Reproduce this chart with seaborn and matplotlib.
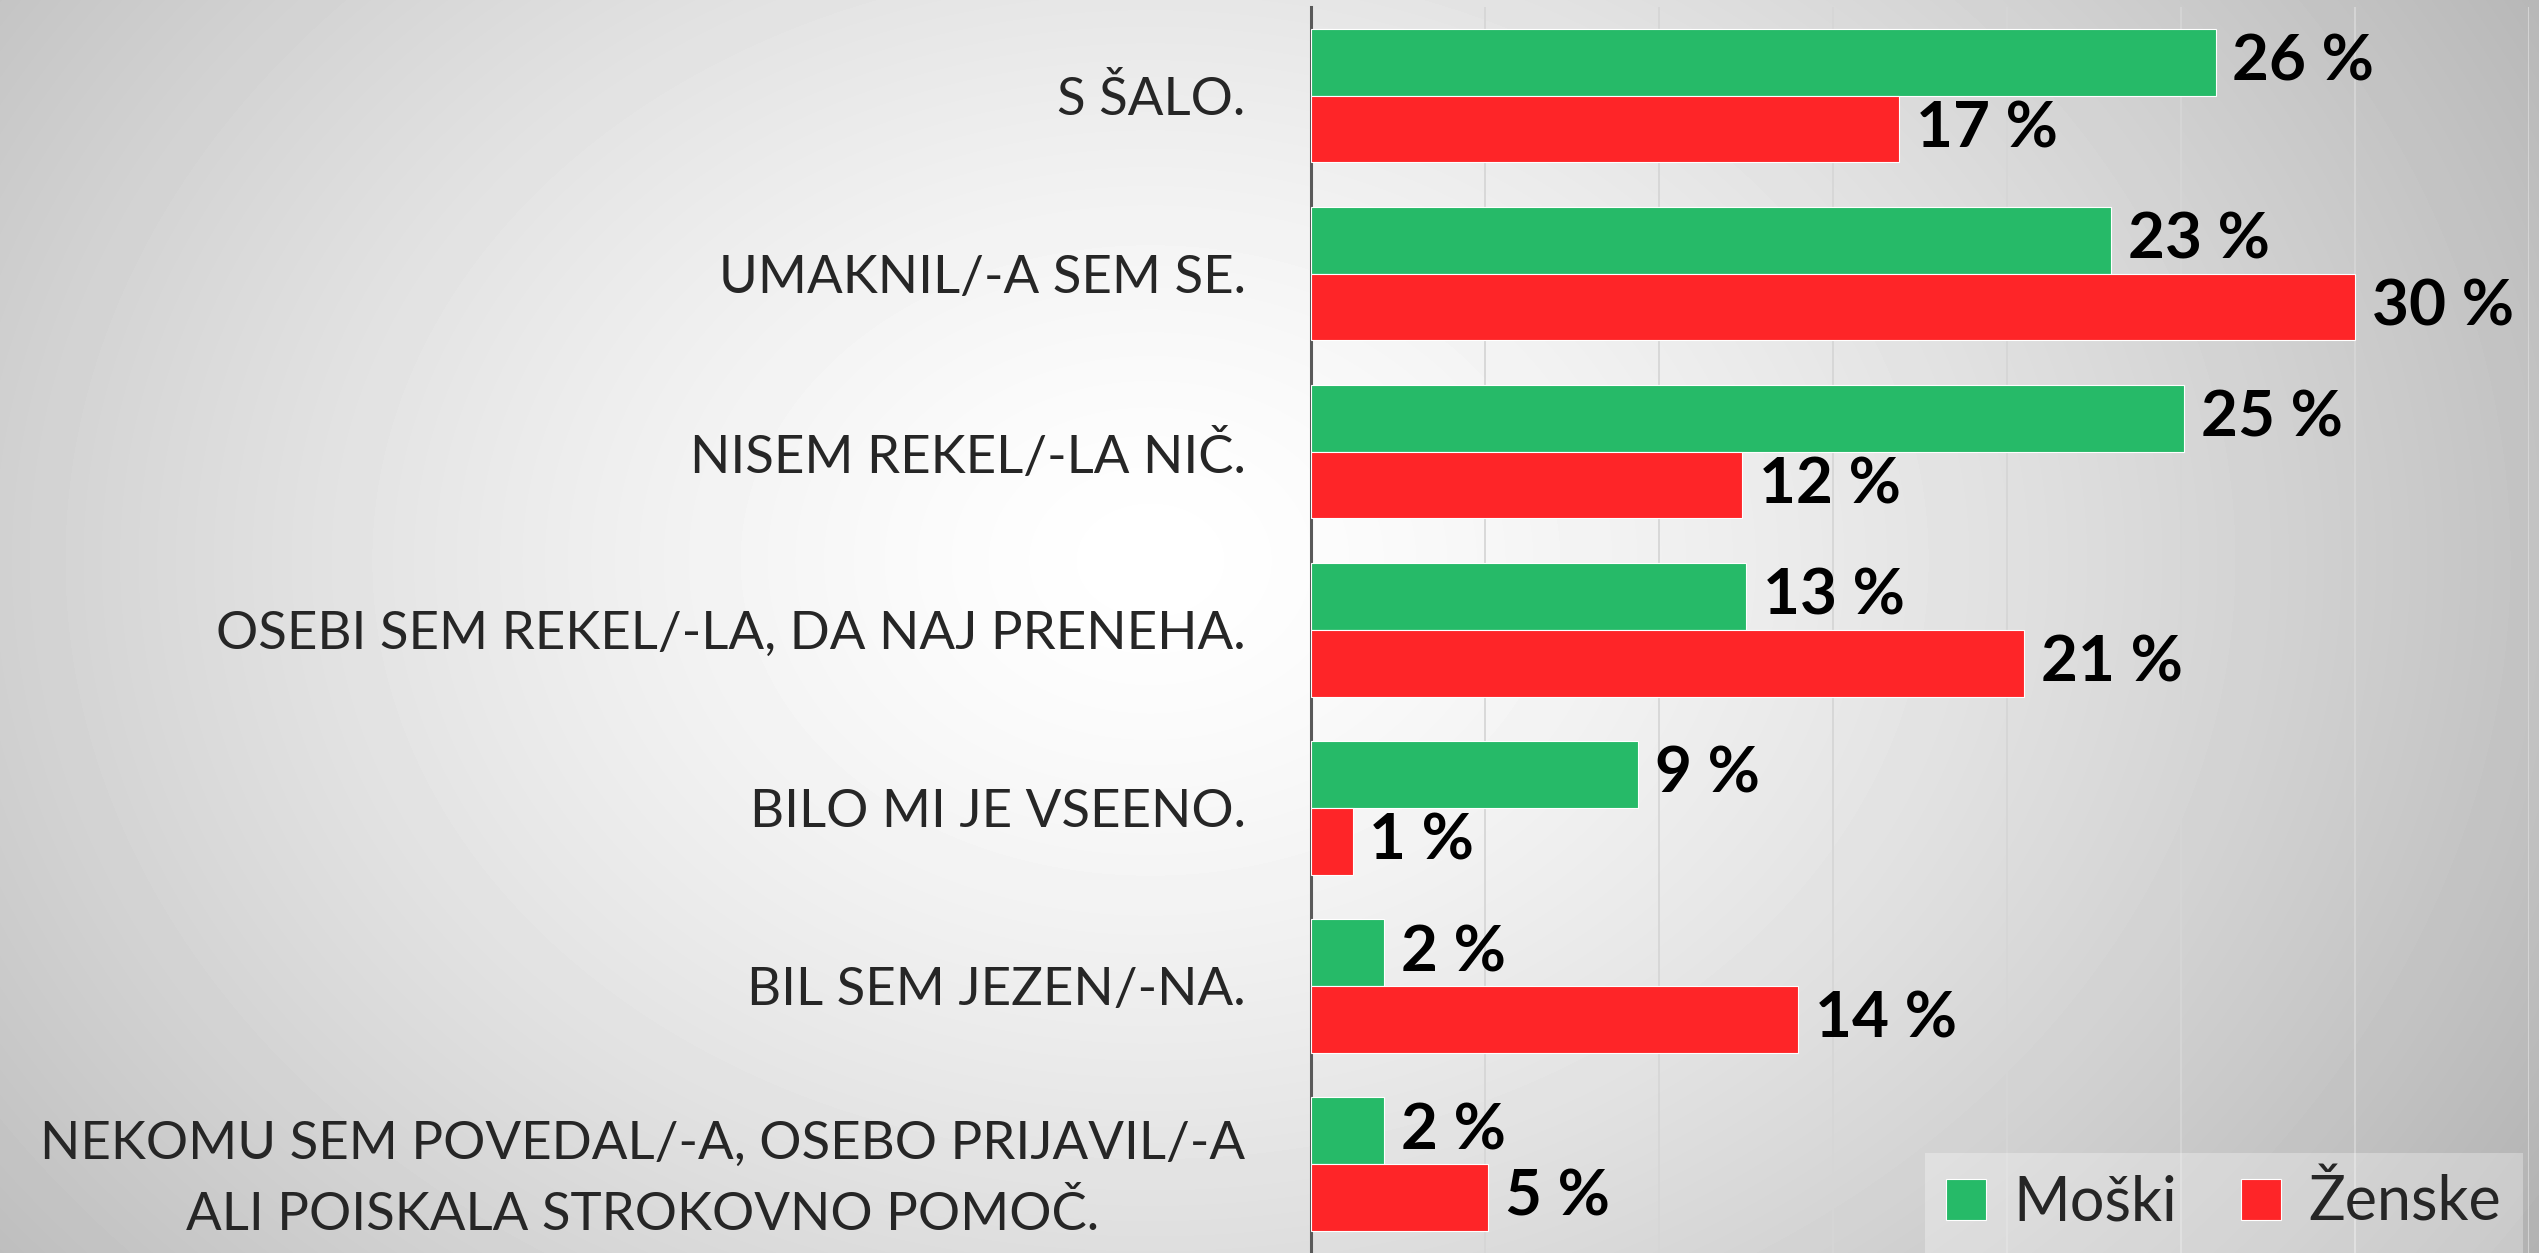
import numpy as np
import pandas as pd
import matplotlib
matplotlib.use('Agg')
import matplotlib.pyplot as plt
import seaborn as sns

# --- DATA ---
CATEGORIES = [
    "S ŠALO.",
    "UMAKNIL/-A SEM SE.",
    "NISEM REKEL/-LA NIČ.",
    "OSEBI SEM REKEL/-LA, DA NAJ PRENEHA.",
    "BILO MI JE VSEENO.",
    "BIL SEM JEZEN/-NA.",
    "NEKOMU SEM POVEDAL/-A, OSEBO PRIJAVIL/-A\nALI POISKALA STROKOVNO POMOČ.",
]
# bar lengths
MOSKI = [26.0, 23.0, 25.1, 12.5, 9.4, 2.1, 2.1]
ZENSKE = [16.9, 30.0, 12.4, 20.5, 1.2, 14.0, 5.1]
# the rounded labels printed next to the bars
MOSKI_LBL = [26, 23, 25, 13, 9, 2, 2]
ZENSKE_LBL = [17, 30, 12, 21, 1, 14, 5]
SERIES = ["Moški", "Ženske"]
COLORS = {"Moški": "#26BA68", "Ženske": "#FE2528"}

df = pd.DataFrame({
    "kategorija": CATEGORIES * 2,
    "odstotek": MOSKI + ZENSKE,
    "spol": [SERIES[0]] * len(CATEGORIES) + [SERIES[1]] * len(CATEGORIES),
})

sns.set_style("white")
plt.rcParams['font.family'] = ['Lato', 'DejaVu Sans']

fig = plt.figure(figsize=(25.39, 12.53), dpi=100)

# radial grey-white background
bg = fig.add_axes([0, 0, 1, 1], zorder=-10)
W, H = 2539, 1253
yy, xx = np.mgrid[0:H, 0:W]
d = np.sqrt((xx - 1150) ** 2 + ((yy - 560) * 1.3) ** 2) / 1400
shade = 1 - 0.24 * np.clip(d, 0, 1.2) ** 1.4
bg.imshow(shade, cmap="gray", vmin=0, vmax=1, aspect="auto", interpolation="bilinear")
bg.axis("off")

ax = fig.add_axes([0.5163, 0.0, 0.4797, 0.9948])
ax.set_facecolor("none")

sns.barplot(data=df, y="kategorija", x="odstotek", hue="spol", palette=COLORS,
            orient="h", width=0.75, saturation=1, edgecolor="#ffffff", linewidth=0.8,
            ax=ax, zorder=3)

for cont, lbls in zip(ax.containers, [MOSKI_LBL, ZENSKE_LBL]):
    ax.bar_label(cont, labels=[f"{v} %" for v in lbls], padding=12,
                 fontsize=46, fontweight="bold", color="black")

ax.set_xlim(0, 35)
ax.set_ylim(6.5, -0.5)
ax.set_xticks(np.arange(5, 36, 5))
ax.set_xticklabels([])
ax.xaxis.grid(True, color="#d6d6d6", linewidth=1.3, zorder=0)
ax.set_axisbelow(True)
ax.set_xlabel("")
ax.set_ylabel("")
ax.tick_params(axis="y", length=0, pad=47, labelsize=38)
ax.tick_params(axis="x", length=0)
for lab in ax.get_yticklabels():
    lab.set_multialignment("center")
    lab.set_linespacing(1.6)

for s in ["top", "right", "bottom"]:
    ax.spines[s].set_visible(False)
ax.spines["left"].set_color("#595959")
ax.spines["left"].set_linewidth(2.2)

leg = ax.legend(loc="lower right", bbox_to_anchor=(0.995, 0.0), ncol=2, fontsize=44,
                frameon=True, handlelength=0.65, handleheight=0.65, handletextpad=0.45,
                columnspacing=1.05, borderaxespad=0, borderpad=0.35)
leg.get_frame().set_facecolor("white")
leg.get_frame().set_alpha(0.3)
leg.get_frame().set_edgecolor("none")
leg.get_frame().set_boxstyle("square", pad=0)

fig.savefig("out.png", dpi=100)
